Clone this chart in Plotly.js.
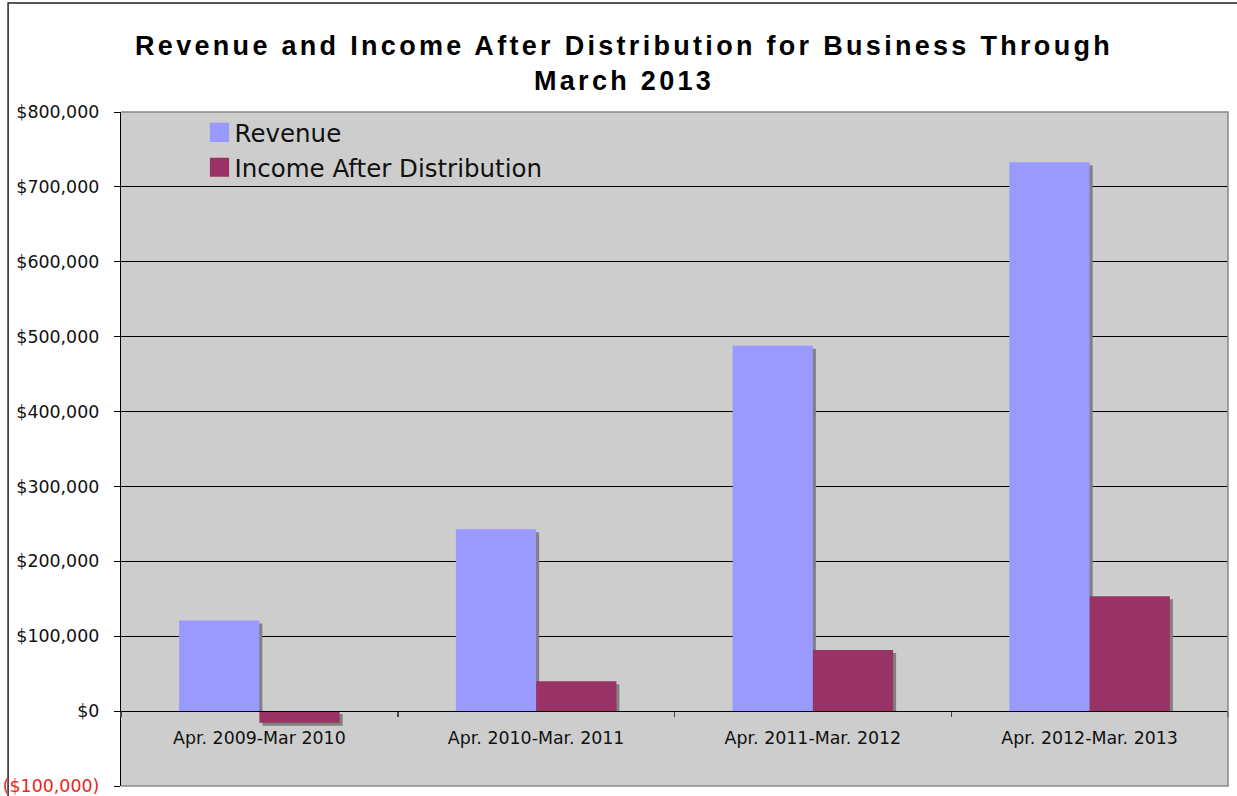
<!DOCTYPE html>
<html>
<head>
<meta charset="utf-8">
<script src="https://cdn.plot.ly/plotly-3.0.1.min.js"></script>
<style>
  html, body { margin: 0; padding: 0; background: #ffffff; }
  #chart { width: 1237px; height: 796px; }
  .gtitle { letter-spacing: 3.3px; }
  .legendpoints path { transform: translate(25px, 0px) scale(1.6); }
</style>
</head>
<body>
<div id="chart"></div>
<script>
// ---- data ----
var categories = ["Apr. 2009-Mar 2010", "Apr. 2010-Mar. 2011", "Apr. 2011-Mar. 2012", "Apr. 2012-Mar. 2013"];
var revenue = [121000, 243000, 488000, 733000];
var incomeAfterDistribution = [-15500, 40000, 81500, 153500];
var yTickVals = [-100000, 0, 100000, 200000, 300000, 400000, 500000, 600000, 700000, 800000];
var yTickText = ['<span style="color:#e8261e">($100,000)</span>', "$0", "$100,000", "$200,000", "$300,000",
                 "$400,000", "$500,000", "$600,000", "$700,000", "$800,000"];
var seriesNames = ["Revenue", "Income After Distribution"];
var titleText = "Revenue and Income After Distribution for Business Through<br>March 2013";

// ---- style constants ----
var yMin = -100000, yMax = 800000;
var plotH = 674, plotW = 1107;
var shadowDy = 3 * (yMax - yMin) / plotH;     // 3px downward shadow in data units
var shadowDx = 3 * 4 / plotW;                  // 3px right shadow in category units
var barW = 0.29;
var revColor = "#9999FF", incColor = "#993366", shadowColor = "#808080";

function shadowBase(vals) { return vals.map(function (v) { return v < 0 ? -shadowDy : 0; }); }
function shadowVals(vals) { return vals.map(function (v) { return v < 0 ? v : v - shadowDy; }); }

var traces = [
  { type: "bar", x: categories, y: shadowVals(revenue), base: shadowBase(revenue),
    width: barW, offset: -barW + shadowDx, marker: { color: shadowColor },
    showlegend: false, hoverinfo: "skip" },
  { type: "bar", x: categories, y: shadowVals(incomeAfterDistribution), base: shadowBase(incomeAfterDistribution),
    width: barW, offset: shadowDx, marker: { color: shadowColor },
    showlegend: false, hoverinfo: "skip" },
  { type: "bar", name: seriesNames[0], x: categories, y: revenue,
    width: barW, offset: -barW, marker: { color: revColor }, legendgroup: "a" },
  { type: "bar", name: seriesNames[1], x: categories, y: incomeAfterDistribution,
    width: barW, offset: 0, marker: { color: incColor }, legendgroup: "b" }
];

var tickFont = { family: "DejaVu Sans, Verdana, sans-serif", size: 17.4, color: "#111111" };

var layout = {
  width: 1237, height: 796,
  margin: { l: 121, r: 9, t: 112, b: 10, pad: 0 },
  paper_bgcolor: "#ffffff",
  plot_bgcolor: "rgba(0,0,0,0)",
  barmode: "overlay",
  showlegend: true,
  title: {
    text: titleText,
    font: { family: "Liberation Sans, Arial, sans-serif", size: 27, color: "#000000", weight: "bold" },
    x: 0.5045, xref: "container", xanchor: "center",
    y: 0.931, yref: "container", yanchor: "middle"
  },
  legend: {
    x: 0.0664, xanchor: "left", y: 1.003, yanchor: "top",
    bgcolor: "rgba(0,0,0,0)", borderwidth: 0,
    font: { family: "DejaVu Sans, Verdana, sans-serif", size: 24.5, color: "#111111" },
    tracegroupgap: 3, traceorder: "normal"
  },
  xaxis: {
    type: "category", range: [-0.5, 3.5],
    anchor: "free", position: (0 - yMin) / (yMax - yMin),
    showline: true, linecolor: "#000000", linewidth: 1.2,
    ticks: "outside", tickson: "boundaries", ticklen: 5, tickcolor: "#444444", tickwidth: 1.5,
    showgrid: false, zeroline: false,
    tickfont: tickFont, ticklabelstandoff: 11, fixedrange: true
  },
  yaxis: {
    range: [yMin, yMax],
    tickmode: "array", tickvals: yTickVals, ticktext: yTickText,
    showline: true, linecolor: "#000000", linewidth: 1.2,
    ticks: "outside", ticklen: 6, tickcolor: "#000000",
    showgrid: true, gridcolor: "#000000", gridwidth: 1,
    zeroline: false, tickfont: tickFont, ticklabelstandoff: 11,
    ticklabeloverflow: "allow", fixedrange: true
  },
  shapes: [
    { type: "rect", xref: "paper", yref: "paper", x0: 0, x1: 1, y0: 0, y1: 1,
      fillcolor: "#cdcdcd", line: { width: 0 }, layer: "below" },
    { type: "path", xref: "paper", yref: "paper", path: "M0,1 L1,1 L1,0 L0,0",
      line: { color: "#888888", width: 1.5 }, layer: "above" },
    { type: "rect", xref: "paper", yref: "paper", x0: -0.102, x1: 1.05, y0: -0.05, y1: 1.1617,
      fillcolor: "rgba(0,0,0,0)", line: { color: "#222222", width: 1.5 }, layer: "below" }
  ]
};

Plotly.newPlot("chart", traces, layout, { displayModeBar: false, staticPlot: true });
</script>
</body>
</html>
